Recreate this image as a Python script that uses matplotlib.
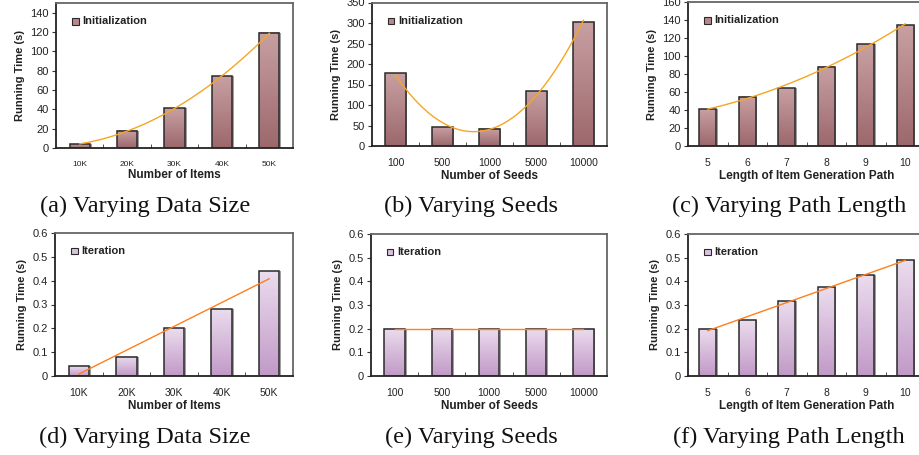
import numpy as np
import matplotlib
matplotlib.use("Agg")
import matplotlib.pyplot as plt
from matplotlib.patches import Rectangle
from matplotlib.colors import LinearSegmentedColormap

# data
items = ["10K", "20K", "30K", "40K", "50K"]
seeds = ["100", "500", "1000", "5000", "10000"]
path_len = ["5", "6", "7", "8", "9", "10"]

init_items = [4, 18, 41, 74, 119]
init_seeds = [178, 46, 42, 133, 302]
init_path = [41, 55, 64, 88, 113, 134]

iter_items = [0.04, 0.08, 0.20, 0.28, 0.44]
iter_seeds = [0.20, 0.20, 0.20, 0.20, 0.20]
iter_path = [0.20, 0.235, 0.315, 0.375, 0.425, 0.49]

captions = ["(a) Varying Data Size", "(b) Varying Seeds", "(c) Varying Path Length",
            "(d) Varying Data Size", "(e) Varying Seeds", "(f) Varying Path Length"]

init_cmap = LinearSegmentedColormap.from_list("init", ["#9c686c", "#c8a0a2"])
iter_cmap = LinearSegmentedColormap.from_list("iter", ["#c19ac7", "#ebdcee"])

plt.rcParams['font.family'] = ['Liberation Sans', 'DejaVu Sans']

fig = plt.figure(figsize=(9.19, 4.55), dpi=100)


def panel(rect, cats, vals, ylim, yticks, cmap, legend, xlabel, deg, lcolor,
          xtick_size, ytick_fmt):
    ax = fig.add_axes(rect)
    x = np.arange(len(cats))
    w = 0.43
    for xi, v in zip(x, vals):
        # grey shadow on the right
        ax.add_patch(Rectangle((xi - w / 2 + 0.04, 0), w, v, facecolor="#a0a0a0",
                               edgecolor="none", zorder=1))
        grad = np.linspace(0, 1, 100).reshape(-1, 1)
        ax.imshow(grad, cmap=cmap, origin="lower", aspect="auto",
                  extent=[xi - w / 2, xi + w / 2, 0, v], zorder=2)
        ax.add_patch(Rectangle((xi - w / 2, 0), w, v, facecolor="none",
                               edgecolor="#2a2a2a", lw=1.1, zorder=3))
    # trend line
    coef = np.polyfit(x, vals, deg)
    xs = np.linspace(0, len(cats) - 1, 100)
    ax.plot(xs, np.polyval(coef, xs), color=lcolor, lw=1.0, zorder=4)

    ax.set_xlim(-0.5, len(cats) - 0.5)
    ax.set_ylim(*ylim)
    ax.set_yticks(yticks)
    ax.set_yticklabels([ytick_fmt(t) for t in yticks])
    ax.set_xticks(x)
    ax.set_xticklabels(cats)
    ax.set_xticks(x[:-1] + 0.5, minor=True)
    ax.tick_params(axis="x", which="major", length=0, labelsize=xtick_size,
                   pad=9, labelcolor="#222")
    ax.tick_params(axis="x", which="minor", length=3, direction="in", color="#333")
    ax.tick_params(axis="y", length=3, direction="out", labelsize=8,
                   labelcolor="#222", color="#333", pad=2)
    for s in ["left", "bottom"]:
        ax.spines[s].set_color("#222")
        ax.spines[s].set_linewidth(1.3)
    for s in ["top", "right"]:
        ax.spines[s].set_color("#666")
        ax.spines[s].set_linewidth(1.3)
    ax.set_xlabel(xlabel, fontsize=8.5, fontweight="bold", color="#222", labelpad=1)
    ax.set_ylabel("Running Time (s)", fontsize=8, fontweight="bold", color="#222",
                  labelpad=4)
    # legend
    ax.add_patch(Rectangle((0.068, 0.85), 0.027, 0.045, transform=ax.transAxes,
                           facecolor=cmap(0.6), edgecolor="#2a2a2a", lw=0.8,
                           zorder=5))
    ax.text(0.112, 0.873, legend, transform=ax.transAxes, fontsize=8,
            fontweight="bold", color="#222", va="center", ha="left", zorder=5)
    return ax


fw, fh = 919.0, 455.0


def r(l, rgt, t, b):
    return [l / fw, (fh - b) / fh, (rgt - l) / fw, (b - t) / fh]


def int_fmt(t):
    return "%d" % t


def dec_fmt(t):
    return "0" if t == 0 else "%.1f" % t


panel(r(56, 293, 3, 148), items, init_items, (0, 150), range(0, 141, 20),
      init_cmap, "Initialization", "Number of Items", 2, "#f5a623", 6, int_fmt)
panel(r(372, 607, 2.5, 146), seeds, init_seeds, (0, 350), range(0, 351, 50),
      init_cmap, "Initialization", "Number of Seeds", 2, "#f5a623", 7.5, int_fmt)
panel(r(688, 925, 2, 146), path_len, init_path, (0, 160), range(0, 161, 20),
      init_cmap, "Initialization", "Length of Item Generation Path", 2, "#f5a623",
      7.5, int_fmt)
panel(r(55, 293, 233, 376), items, iter_items, (0, 0.6), np.arange(0, 0.61, 0.1),
      iter_cmap, "Iteration", "Number of Items", 1, "#ff7f1e", 7.5, dec_fmt)
panel(r(371, 607, 234, 376), seeds, iter_seeds, (0, 0.6), np.arange(0, 0.61, 0.1),
      iter_cmap, "Iteration", "Number of Seeds", 1, "#ff7f1e", 7.5, dec_fmt)
panel(r(688, 925, 234, 376), path_len, iter_path, (0, 0.6), np.arange(0, 0.61, 0.1),
      iter_cmap, "Iteration", "Length of Item Generation Path", 1, "#ff7f1e", 7.5,
      dec_fmt)

cap_x = [145, 471, 789]
for i, c in enumerate(captions):
    y = 206 if i < 3 else 437
    fig.text(cap_x[i % 3] / fw, 1 - y / fh, c, fontsize=17.5, ha="center",
             va="center", family=["Liberation Serif", "DejaVu Serif"], color="#111")

fig.savefig("out.png", dpi=100)
